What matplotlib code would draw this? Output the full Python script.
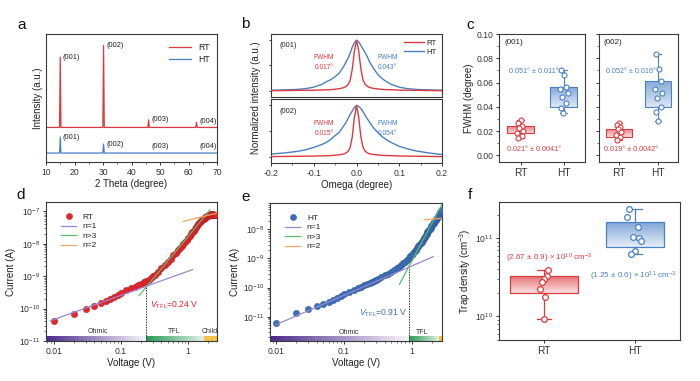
import numpy as np
import matplotlib
matplotlib.use('Agg')
import matplotlib.pyplot as plt
from matplotlib.ticker import MultipleLocator, LogLocator, NullFormatter, NullLocator, FixedLocator, FixedFormatter
from matplotlib.patches import Rectangle
from matplotlib.lines import Line2D
from matplotlib.colors import to_rgb

plt.rcParams['font.family'] = ['Liberation Sans', 'DejaVu Sans']
plt.rcParams['mathtext.fontset'] = 'custom'
plt.rcParams['mathtext.rm'] = 'Liberation Sans'
plt.rcParams['mathtext.it'] = 'Liberation Sans:italic'
plt.rcParams['mathtext.bf'] = 'Liberation Sans:bold'
plt.rcParams['axes.linewidth'] = 0.8
plt.rcParams['axes.edgecolor'] = '#3a3a3a'
for a in ['x', 'y']:
    plt.rcParams[a + 'tick.major.width'] = 0.7
    plt.rcParams[a + 'tick.minor.width'] = 0.5
    plt.rcParams[a + 'tick.major.size'] = 2.5
    plt.rcParams[a + 'tick.minor.size'] = 1.5
    plt.rcParams[a + 'tick.labelsize'] = 6.2
    plt.rcParams[a + 'tick.major.pad'] = 1.5
    plt.rcParams[a + 'tick.color'] = '#333333'
plt.rcParams['axes.labelsize'] = 7
plt.rcParams['axes.labelpad'] = 2
plt.rcParams['text.color'] = '#222222'
plt.rcParams['axes.labelcolor'] = '#222222'

RED = '#dc3a3e'
BLUE = '#4a80c4'
PURPLE = '#9a86d2'
GREEN = '#5cba6b'
ORANGE = '#f2a55c'

# ---------------- data: panel a (XRD) ----------------
two_theta_range = [10, 70]
xrd_peak_labels = ['(001)', '(002)', '(003)', '(004)']
xrd_peak_pos = [15.0, 30.2, 46.0, 62.8]
rt_peak_heights = [0.55, 0.64, 0.06, 0.04]
ht_peak_heights = [0.125, 0.07, 0.0, 0.0]
rt_xrd_offset = 0.27
ht_xrd_offset = 0.07

# ---------------- data: panel b (rocking curves) ----------------
omega_ht = [-0.2, -0.17, -0.14, -0.12, -0.1, -0.08, -0.07, -0.06, -0.05, -0.04, -0.03, -0.025,
            -0.02, -0.015, -0.01, -0.005, 0, 0.005, 0.01, 0.015, 0.02, 0.025, 0.03, 0.04, 0.05,
            0.06, 0.07, 0.08, 0.1, 0.12, 0.14, 0.17, 0.2]
ht_001 = [0.01, 0.015, 0.025, 0.04, 0.07, 0.13, 0.18, 0.22, 0.28, 0.35, 0.48, 0.56, 0.64, 0.74,
          0.86, 0.95, 1.0, 0.97, 0.90, 0.83, 0.76, 0.68, 0.58, 0.44, 0.32, 0.24, 0.18, 0.13, 0.07,
          0.04, 0.025, 0.015, 0.01]
ht_002 = [0.05, 0.07, 0.10, 0.13, 0.18, 0.24, 0.28, 0.34, 0.41, 0.48, 0.60, 0.66, 0.74, 0.82,
          0.89, 0.96, 1.0, 0.98, 0.94, 0.88, 0.81, 0.74, 0.68, 0.56, 0.47, 0.39, 0.33, 0.28, 0.20,
          0.15, 0.11, 0.07, 0.04]
omega_rt = [-0.2, -0.1, -0.06, -0.04, -0.03, -0.025, -0.02, -0.015, -0.01, -0.005, 0, 0.005,
            0.01, 0.015, 0.02, 0.025, 0.03, 0.04, 0.06, 0.1, 0.2]
rt_001 = [0.0, 0.01, 0.02, 0.04, 0.06, 0.08, 0.12, 0.2, 0.42, 0.78, 1.0, 0.8, 0.45, 0.22, 0.13,
          0.09, 0.065, 0.045, 0.025, 0.012, 0.0]
rt_002 = [0.0, 0.01, 0.02, 0.035, 0.05, 0.07, 0.1, 0.17, 0.38, 0.76, 1.0, 0.78, 0.4, 0.19, 0.11,
          0.075, 0.055, 0.04, 0.025, 0.012, 0.0]
fwhm_rt = ['0.017°', '0.015°']
fwhm_ht = ['0.043°', '0.054°']

# ---------------- data: panel c (FWHM statistics) ----------------
groups = ['RT', 'HT']
c001_rt = [0.0292, 0.0264, 0.0242, 0.0223, 0.0203, 0.0182, 0.0160, 0.0140]
c001_ht = [0.0705, 0.066, 0.056, 0.055, 0.051, 0.048, 0.043, 0.039, 0.035]
c002_rt = [0.027, 0.025, 0.023, 0.0215, 0.019, 0.017, 0.0154, 0.013]
c002_ht = [0.0837, 0.0713, 0.0609, 0.0545, 0.0512, 0.047, 0.040, 0.036, 0.028]
c001_box = [dict(q1=0.0182, q3=0.0242, whislo=0.0140, whishi=0.0292),
            dict(q1=0.0402, q3=0.0560, whislo=0.035, whishi=0.0705)]
c002_box = [dict(q1=0.0154, q3=0.022, whislo=0.013, whishi=0.027),
            dict(q1=0.040, q3=0.061, whislo=0.028, whishi=0.0837)]
c001_text = ['0.021° ± 0.0041°', '0.051° ± 0.011°']
c002_text = ['0.019° ± 0.0042°', '0.052° ± 0.016°']
jit_rt = [0.004, -0.05, 0.027, -0.027, 0.066, -0.074, 0.027, -0.05]
jit_ht = [-0.05, 0.02, 0.06, -0.08, 0.1, -0.03, 0.06, -0.06, -0.01]

# ---------------- data: panel d, e (I-V) ----------------
v_rt = [0.01, 0.02, 0.03, 0.04, 0.05, 0.06, 0.07, 0.08, 0.09, 0.10, 0.12, 0.14, 0.16, 0.18, 0.20,
        0.22, 0.24, 0.26, 0.28, 0.30, 0.32, 0.35, 0.40, 0.45, 0.50, 0.55, 0.60, 0.65, 0.70, 0.75,
        0.80, 0.85, 0.90, 0.95, 1.00, 1.05, 1.10, 1.15, 1.20, 1.25, 1.30, 1.35, 1.40, 1.45, 1.50,
        1.55, 1.60, 1.65, 1.70, 1.75, 1.80, 1.85, 1.90, 1.95, 2.00, 2.05, 2.10, 2.15, 2.20, 2.25,
        2.30, 2.35, 2.40, 2.45, 2.50, 2.55, 2.60]
i_rt = [4.2e-11, 6.8e-11, 9.5e-11, 1.2e-10, 1.45e-10, 1.74e-10, 2.0e-10, 2.3e-10, 2.63e-10, 3.0e-10,
        3.7e-10, 4.3e-10, 4.8e-10, 5.4e-10, 5.9e-10, 6.5e-10, 7.1e-10, 7.9e-10, 8.9e-10, 1.0e-9,
        1.12e-9, 1.32e-9, 1.74e-9, 2.19e-9, 2.8e-9, 3.5e-9, 4.4e-9, 5.2e-9, 6.3e-9, 7.4e-9,
        8.7e-9, 1.0e-8, 1.15e-8, 1.32e-8, 1.51e-8, 1.74e-8, 2.0e-8, 2.26e-8, 2.57e-8, 2.88e-8,
        3.24e-8, 3.6e-8, 3.98e-8, 4.3e-8, 4.68e-8, 5.0e-8, 5.37e-8, 5.7e-8, 6.0e-8, 6.3e-8,
        6.6e-8, 6.85e-8, 7.1e-8, 7.3e-8, 7.6e-8, 7.8e-8, 7.9e-8, 8.0e-8, 8.1e-8, 8.1e-8,
        8.1e-8, 8.0e-8, 7.9e-8, 7.85e-8, 7.8e-8, 7.7e-8, 7.6e-8]
v_ht = [0.01, 0.02, 0.03, 0.04, 0.05, 0.06, 0.07, 0.08, 0.09, 0.10, 0.12, 0.14, 0.16, 0.18, 0.20,
        0.22, 0.24, 0.26, 0.28, 0.30, 0.32, 0.35, 0.40, 0.45, 0.50, 0.55, 0.60, 0.65, 0.70, 0.75,
        0.80, 0.85, 0.90, 0.95, 1.00, 1.05, 1.10, 1.15, 1.20, 1.25, 1.30, 1.35, 1.40, 1.45, 1.50,
        1.55, 1.60, 1.65, 1.70, 1.75, 1.80, 1.85, 1.90, 1.95, 2.00, 2.05, 2.10, 2.15, 2.20, 2.25,
        2.30, 2.35, 2.40, 2.45, 2.50, 2.55, 2.60, 2.65, 2.70, 2.75]
i_ht = [5.9e-12, 1.29e-11, 1.78e-11, 2.3e-11, 2.7e-11, 3.2e-11, 3.8e-11, 4.4e-11, 5.1e-11, 5.8e-11,
        7.2e-11, 8.5e-11, 9.5e-11, 1.07e-10, 1.2e-10, 1.32e-10, 1.45e-10, 1.58e-10, 1.7e-10, 1.86e-10,
        2.0e-10, 2.24e-10, 2.63e-10, 3.0e-10, 3.5e-10, 4.0e-10, 4.6e-10, 5.1e-10, 5.9e-10, 6.8e-10,
        7.8e-10, 8.9e-10, 1.02e-9, 1.17e-9, 1.32e-9, 1.51e-9, 1.74e-9, 2.0e-9, 2.24e-9, 2.57e-9,
        2.95e-9, 3.3e-9, 3.8e-9, 4.3e-9, 4.9e-9, 5.6e-9, 6.3e-9, 7.0e-9, 7.8e-9, 8.6e-9,
        9.5e-9, 1.05e-8, 1.15e-8, 1.26e-8, 1.38e-8, 1.51e-8, 1.66e-8, 1.8e-8, 1.95e-8, 2.1e-8,
        2.3e-8, 2.5e-8, 2.7e-8, 2.9e-8, 3.16e-8, 3.4e-8, 3.6e-8, 3.9e-8, 4.2e-8, 4.5e-8]
# fit lines (endpoints)
d_fit = {'n=1': ([0.0089, 1.16], [4.2e-11, 1.6e-9]),
         'n>3': ([0.186, 2.1], [2.5e-10, 1.1e-7]),
         'n=2': ([0.85, 2.7], [4.9e-8, 8.9e-8])}
e_fit = {'n=1': ([0.0102, 2.08], [5.4e-12, 1.15e-9]),
         'n>3': ([0.66, 2.76], [1.3e-10, 6.9e-8]),
         'n=2': ([1.53, 2.8], [2.1e-8, 2.4e-8])}
vtfl_rt, itfl_rt = 0.24, 4.9e-10
vtfl_ht, itfl_ht = 0.91, 4.9e-10
d_regions = [('Ohmic', 0.0077, 0.24), ('TFL', 0.24, 1.72), ('Child', 1.72, 2.68)]
e_regions = [('Ohmic', 0.0082, 0.91), ('TFL', 0.91, 2.55), ('', 2.55, 2.79)]

# ---------------- data: panel f (trap density) ----------------
trap_rt = [3.9e10, 3.3e10, 3.0e10, 2.74e10, 2.25e10, 1.76e10, 9.3e9]
trap_ht = [2.35e11, 1.86e11, 1.38e11, 1.03e11, 1.0e11, 9.1e10, 6.9e10, 6.3e10]
trap_box = [dict(q1=1.98e10, q3=3.24e10, whislo=9.3e9, whishi=3.9e10),
            dict(q1=7.8e10, q3=1.62e11, whislo=6.3e10, whishi=2.35e11)]
jit_f_rt = [0.037, 0.03, -0.007, -0.022, -0.044, 0.011, 0.0]
jit_f_ht = [-0.06, -0.09, 0.033, -0.015, 0.044, 0.066, 0.007, -0.037]

# ======================================================================
fig = plt.figure(figsize=(7, 3.81), dpi=100)
W, H = 700.0, 381.0


def add_ax(l, t, r, b):
    return fig.add_axes([l / W, 1 - b / H, (r - l) / W, (b - t) / H])


def mix(color, a):
    c = np.array(to_rgb(color))
    return tuple(1 - (1 - c) * a)


def vgrad(ax, x0, x1, y0, y1, color, a_top, a_bot, log=False, n=40, z=1.5):
    edges = np.geomspace(y0, y1, n + 1) if log else np.linspace(y0, y1, n + 1)
    for i in range(n):
        t = i / (n - 1)
        a = a_bot + (a_top - a_bot) * t
        top = edges[min(i + 2, n)]
        ax.add_patch(Rectangle((x0, edges[i]), x1 - x0, top - edges[i], facecolor=mix(color, a),
                               edgecolor='none', lw=0, zorder=z))


def hgrad(ax, x0, x1, y0, y1, color, a_left, a_right, n=60, z=1.5):
    edges = np.geomspace(x0, x1, n + 1)
    for i in range(n):
        t = i / (n - 1)
        a = a_left + (a_right - a_left) * t
        right = edges[min(i + 2, n)]
        ax.add_patch(Rectangle((edges[i], y0), right - edges[i], y1 - y0, facecolor=mix(color, a),
                               edgecolor='none', lw=0, zorder=z))


def letter(x, y, s):
    fig.text(x / W, 1 - y / H, s, fontsize=11, ha='center', va='center', color='#111111')


letter(22, 25, 'a'); letter(245, 24, 'b'); letter(470, 25, 'c')
letter(21, 195, 'd'); letter(246, 197, 'e'); letter(470, 195, 'f')

# ---------------- panel a ----------------
axa = add_ax(46, 34, 217, 162)
for off, hts, col, lab in [(rt_xrd_offset, rt_peak_heights, RED, 'RT'),
                           (ht_xrd_offset, ht_peak_heights, BLUE, 'HT')]:
    xs = [two_theta_range[0]]
    ys = [off]
    for p, h in zip(xrd_peak_pos, hts):
        xs += [p - 0.25, p, p + 0.25]
        ys += [off, off + h, off]
    xs.append(two_theta_range[1]); ys.append(off)
    axa.plot(xs, ys, color=col, lw=0.9, label=lab)
    for p, h, t in zip(xrd_peak_pos, hts, xrd_peak_labels):
        axa.text(p + 0.9, off + max(h, 0.05), t, fontsize=5.3, ha='left', va='center')
axa.set_xlim(two_theta_range)
axa.set_ylim(0, 1)
axa.set_yticks([])
axa.xaxis.set_major_locator(MultipleLocator(10))
axa.xaxis.set_minor_locator(MultipleLocator(5))
axa.set_xlabel('2 Theta (degree)')
axa.set_ylabel('Intensity (a.u.)')
axa.legend(loc='upper right', frameon=False, fontsize=6.3, handlelength=2.6,
           labelspacing=0.3, bbox_to_anchor=(0.99, 0.97), borderaxespad=0.2)

# ---------------- panel b ----------------
axb1 = add_ax(271, 34, 442, 97)
axb2 = add_ax(271, 99, 442, 163)
for ax, rt, ht, tag, fr, fh in [(axb1, rt_001, ht_001, '(001)', fwhm_rt[0], fwhm_ht[0]),
                                (axb2, rt_002, ht_002, '(002)', fwhm_rt[1], fwhm_ht[1])]:
    ax.plot(omega_ht, ht, color=BLUE, lw=1.0, label='HT', zorder=2)
    ax.plot(omega_rt, rt, color=RED, lw=1.0, label='RT', zorder=3)
    ax.set_xlim(-0.2, 0.2)
    ax.set_ylim(-0.125, 1.125)
    ax.set_yticks([0, 0.5, 1.0])
    ax.set_yticklabels([])
    ax.tick_params(axis='y', length=1.5)
    ax.text(0.05, 0.81, tag, transform=ax.transAxes, fontsize=5.3, ha='left', va='center')
    ax.text(-0.076, 0.55, 'FWHM\n' + fr, color=RED, fontsize=4.8, ha='center', va='center',
            linespacing=1.6)
    ax.text(0.072, 0.55, 'FWHM\n' + fh, color=BLUE, fontsize=4.8, ha='center', va='center',
            linespacing=1.6)
axb1.set_xticks([])
axb2.xaxis.set_major_locator(MultipleLocator(0.1))
axb2.xaxis.set_minor_locator(MultipleLocator(0.05))
axb2.set_xticks([-0.2, -0.1, 0.0, 0.1, 0.2])
axb2.set_xticklabels(['-0.2', '-0.1', '0.0', '0.1', '0.2'])
axb2.set_xlabel('Omega (degree)')
h, l = axb1.get_legend_handles_labels()
axb1.legend(h[::-1], l[::-1], loc='upper right', frameon=False, fontsize=5.6, handlelength=2.6,
            labelspacing=0.2, borderaxespad=0.3, handletextpad=0.3)
fig.text(256 / W, 1 - 98 / H, 'Normalized intensity (a.u.)', rotation=90, ha='center',
         va='center', fontsize=7)

# ---------------- panel c ----------------
axc1 = add_ax(499, 34, 585, 162)
axc2 = add_ax(599, 34, 678, 162)
for ax, rt, ht, boxes, texts, tag in [(axc1, c001_rt, c001_ht, c001_box, c001_text, '(001)'),
                                      (axc2, c002_rt, c002_ht, c002_box, c002_text, '(002)')]:
    stats = []
    for b in boxes:
        s = dict(b); s['med'] = b['q1']; s['fliers'] = []
        stats.append(s)
    res = ax.bxp(stats, positions=[1, 2], widths=0.65, patch_artist=True, showfliers=False,
                 capwidths=0.15, medianprops=dict(linewidth=0),
                 boxprops=dict(facecolor='none', linewidth=0.8),
                 whiskerprops=dict(linewidth=0.8), capprops=dict(linewidth=0.8))
    for i, col in enumerate([RED, BLUE]):
        res['boxes'][i].set_edgecolor(col)
        res['boxes'][i].set_zorder(2.5)
        for art in res['whiskers'][2 * i:2 * i + 2] + res['caps'][2 * i:2 * i + 2]:
            art.set_color(col)
        vgrad(ax, [1, 2][i] - 0.325, [1, 2][i] + 0.325, boxes[i]['q1'], boxes[i]['q3'], col,
              0.65, 0.2)
    ax.scatter(np.array(jit_rt) + 1, rt, s=13, facecolor='white', edgecolor=RED, lw=0.8, zorder=4)
    ax.scatter(np.array(jit_ht) + 2, ht, s=13, facecolor='white', edgecolor=BLUE, lw=0.8, zorder=4)
    ax.set_xlim(0.5, 2.5)
    ax.set_ylim(-0.0055, 0.1)
    ax.set_xticks([1, 2])
    ax.set_xticklabels(groups, fontsize=7.3)
    ax.yaxis.set_major_locator(MultipleLocator(0.02))
    ax.yaxis.set_minor_locator(MultipleLocator(0.01))
    ax.text(0.06, 0.93, tag, transform=ax.transAxes, fontsize=5.8, ha='left', va='center')
    ax.text(1.32, 0.0045, texts[0], color=RED, fontsize=5.2, ha='center', va='center')
    ax.text(1.32, 0.069, texts[1], color=BLUE, fontsize=5.2, ha='center', va='center')
axc1.yaxis.set_major_formatter(matplotlib.ticker.FormatStrFormatter('%.2f'))
axc1.set_ylabel('FWHM (degree)')
axc2.set_yticklabels([])

# ---------------- panels d, e ----------------
def iv_panel(ax, v, i, col, edge, lab, fits, vt, it, regions, xlim, ylim, vt_text, vt_xy,
             region_xy):
    ax.set_xscale('log'); ax.set_yscale('log')
    ax.set_xlim(xlim); ax.set_ylim(ylim)
    fcols = {'n=1': PURPLE, 'n>3': GREEN, 'n=2': ORANGE}
    ax.plot(v, i, 'o', ms=4.6, mfc=col, mec=edge, mew=0.3, zorder=3)
    for k, (fx, fy) in fits.items():
        ax.plot(fx, fy, color=fcols[k], lw=0.9, zorder=4)
    ax.plot([vt, vt], [ylim[0], it], ls=(0, (1.5, 1.2)), color='#333333', lw=0.7, zorder=2)
    ybar = ylim[0] * 10 ** (4.5 / (ax.get_window_extent().height /
                                   np.log10(ylim[1] / ylim[0])))
    rcols = [('#4b2a8c', 1.0, 0.05), ('#2a9a58', 1.0, 0.15), ('#f2bd34', 0.9, 0.9)]
    for (name, x0, x1), (rc, a0, a1), lx in zip(regions, rcols, region_xy):
        hgrad(ax, x0, x1, ylim[0], ybar, rc, a0, a1)
        if name:
            ax.text(lx, ybar * 1.08, name, fontsize=5, ha='center', va='bottom', color='#333333')
    ax.text(vt_xy[0], vt_xy[1], vt_text, color=col, fontsize=6.2, ha='center', va='center')
    handles = [Line2D([], [], marker='o', ls='none', ms=4.4, mfc=col, mec=edge, mew=0.3),
               Line2D([], [], color=PURPLE, lw=0.9), Line2D([], [], color=GREEN, lw=0.9),
               Line2D([], [], color=ORANGE, lw=0.9)]
    ax.legend(handles, [lab, 'n=1', 'n>3', 'n=2'], loc='upper left', frameon=False,
              fontsize=6, handlelength=1.8, labelspacing=0.2, borderaxespad=0.6,
              bbox_to_anchor=(0.04, 0.98))
    ax.set_xticks([0.01, 0.1, 1])
    ax.set_xticklabels(['0.01', '0.1', '1'])
    ax.xaxis.set_minor_locator(LogLocator(base=10, subs=np.arange(2, 10)))
    ax.xaxis.set_minor_formatter(NullFormatter())
    ax.yaxis.set_major_locator(LogLocator(base=10, numticks=20))
    ax.yaxis.set_minor_locator(LogLocator(base=10, subs=np.arange(2, 10), numticks=20))
    ax.yaxis.set_minor_formatter(NullFormatter())
    ax.set_xlabel('Voltage (V)')
    ax.set_ylabel('Current (A)')


axd = add_ax(46, 202, 217, 341)
iv_panel(axd, v_rt, i_rt, '#e3262c', '#a8161b', 'RT', d_fit, vtfl_rt, itfl_rt, d_regions,
         (0.0077, 2.68), (1e-11, 1.95e-7), r'$V_{\rm TFL}$=0.24 V', (0.62, 1.25e-10),
         [0.045, 0.63, 2.1])
axe = add_ax(270, 203, 442, 341)
iv_panel(axe, v_ht, i_ht, '#3d6fb6', '#23508f', 'HT', e_fit, vtfl_ht, itfl_ht, e_regions,
         (0.0082, 2.79), (1.46e-12, 8e-8), r'$V_{\rm TFL}$=0.91 V', (0.38, 1.3e-11),
         [0.117, 1.43, 2.6])

# ---------------- panel f ----------------
axf = add_ax(499, 202, 680, 340)
axf.set_yscale('log')
stats = []
for b in trap_box:
    s = dict(b); s['med'] = b['q1']; s['fliers'] = []
    stats.append(s)
widths = [0.75, 0.64]
res = axf.bxp(stats, positions=[1, 2], widths=widths, patch_artist=True, showfliers=False,
              capwidths=0.15, medianprops=dict(linewidth=0),
              boxprops=dict(facecolor='none', linewidth=0.9),
              whiskerprops=dict(linewidth=0.9), capprops=dict(linewidth=0.9))
for i, col in enumerate([RED, BLUE]):
    res['boxes'][i].set_edgecolor(col)
    res['boxes'][i].set_zorder(2.5)
    for art in res['whiskers'][2 * i:2 * i + 2] + res['caps'][2 * i:2 * i + 2]:
        art.set_color(col)
    vgrad(axf, [1, 2][i] - widths[i] / 2, [1, 2][i] + widths[i] / 2, trap_box[i]['q1'],
          trap_box[i]['q3'], col, 0.7, 0.15, log=True)
axf.scatter(np.array(jit_f_rt) + 1, trap_rt, s=17, facecolor='white', edgecolor=RED, lw=0.9,
            zorder=4)
axf.scatter(np.array(jit_f_ht) + 2, trap_ht, s=17, facecolor='white', edgecolor=BLUE, lw=0.9,
            zorder=4)
axf.set_xlim(0.5, 2.5)
axf.set_ylim(5e9, 2.9e11)
axf.set_xticks([1, 2])
axf.set_xticklabels(groups, fontsize=7.3)
axf.yaxis.set_major_locator(FixedLocator([1e10, 1e11]))
axf.yaxis.set_major_formatter(FixedFormatter([r'$10^{10}$', r'$10^{11}$']))
axf.yaxis.set_minor_locator(LogLocator(base=10, subs=np.arange(2, 10), numticks=20))
axf.yaxis.set_minor_formatter(NullFormatter())
axf.set_ylabel(r'Trap density (cm$^{-3}$)')
axf.text(1.05, 5.6e10, r'(2.67 $\pm$ 0.9) $\times$ 10$^{10}$ cm$^{-3}$', color=RED, fontsize=5.8,
         ha='center', va='center')
axf.text(1.98, 3.3e10, r'(1.25 $\pm$ 0.6) $\times$ 10$^{11}$ cm$^{-3}$', color=BLUE, fontsize=5.8,
         ha='center', va='center')

fig.savefig('out.png', dpi=100)
